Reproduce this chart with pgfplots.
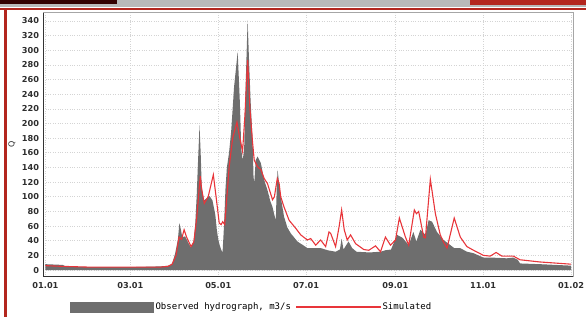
\documentclass[border=0pt]{standalone}
\usepackage{fontspec}
\setmainfont{DejaVu Sans}
\newfontfamily\monofont{DejaVu Sans Mono}
\usepackage{pgfplots}
\pgfplotsset{compat=1.18}
\usetikzlibrary{calc}
\definecolor{obsgray}{HTML}{6E6E6E}
\definecolor{simred}{HTML}{E8353A}
\definecolor{frred}{HTML}{B3261E}
\definecolor{gridc}{HTML}{D4D4D4}
\definecolor{tickc}{HTML}{2E2E2E}
\begin{document}
\begin{tikzpicture}[x=1pt,y=1pt]
\begin{axis}[
  name=ax,
  width=530pt, height=264pt, scale only axis,
  xmin=-1.5, xmax=366.6, ymin=-9.1, ymax=351.3,
  xtick={0,59,120,181,243,304,365},
  xticklabels={01.01,03.01,05.01,07.01,09.01,11.01,01.02},
  ytick={0,20,...,340},
  grid=major,
  major grid style={gridc, dotted, line width=0.7pt},
  axis line style={black!35, line width=0.8pt},
  major tick length=0pt,
  /pgf/number format/assume math mode=true,
  ticklabel style={font=\fontsize{8.2}{9}\selectfont\bfseries, text=tickc},
  yticklabel style={inner sep=0pt, anchor=east, xshift=-4pt},
  xticklabel style={inner sep=0pt, anchor=north, yshift=-5.5pt},
  ylabel={Q},
  ylabel style={at={(axis description cs:-0.059,0.5)}, anchor=center, font=\fontsize{8}{9}\selectfont, text=tickc},
  legend columns=2,
  legend cell align=left,
  legend style={at={(0.0504,-0.1148)}, anchor=west, draw=none, fill=none,
    inner sep=0pt, outer sep=0pt,
    font=\monofont\fontsize{9}{10}\selectfont,
    nodes={inner sep=1.5pt},
    /tikz/every even column/.append style={column sep=3.5pt}},
]
\addplot[fill=obsgray, draw=none,
  legend image code/.code={\fill[obsgray] (0pt,-5.5pt) rectangle (84pt,5.5pt);}]
coordinates {
(0,8)(12,7)(14,5)(30,4)(60,4)(80,5)(86,6)(88,9)(90,22)(92,42)(93,64)(94,56)(95,45)(97,46)(99,38)(101,31)(103,40)(104,62)(105,100)(106,150)(107,198)(107.8,160)(108.5,115)(110,95)(112,98)(114,101)(116,95)(118,75)(119,55)(120,42)(121,34)(122,28)(123,24)(124,60)(125,110)(126,140)(127.5,160)(129,190)(131,250)(133.5,298)(135,230)(136,165)(137,150)(138,165)(139,250)(140.4,341)(141.5,280)(142.5,230)(143.8,180)(144.5,128)(145,118)(146,150)(147.3,155)(149.6,146)(151.9,123)(154.2,109)(156,95)(157.7,86)(159,75)(160,68)(160.6,110)(161.2,137)(162.3,118)(163.4,100)(165.7,73)(168,58)(170.4,50)(175,39)(181.9,30)(191.1,30)(196,27)(201.5,25)(204.5,28)(205.7,43)(207,28)(210.5,39)(213,30)(216,25)(225,24)(232.7,25)(236.1,27)(240,28)(244.2,48)(248,44)(252.3,34)(255.5,52)(257.6,39)(260.4,55)(263.9,48)(266.1,68)(268.5,66)(271.9,52)(276.5,41)(281.2,34)(283.9,30)(288,30)(292.7,25)(297.3,23)(304.2,17)(310,17)(320.4,16)(325,17)(328,14)(329.6,9)(343.5,8)(365,6)
} \closedcycle;
\addlegendentry{Observed hydrograph, m3/s}
\addplot[simred, line width=1.1pt,
  legend image code/.code={\fill[simred] (0pt,-0.7pt) rectangle (84pt,0.7pt);}]
coordinates {
(0,6)(12,5)(30,4)(60,4)(80,4)(85,5)(88,8)(90.7,20)(92.8,45)(94.5,42)(96.3,55)(98,45)(101.1,32)(103,38)(105,70)(107.5,128)(108.5,110)(110.3,91)(113,100)(116.6,130)(118.5,100)(120.7,64)(122,62)(123.1,66)(124.5,62)(126,100)(127.6,141)(130,180)(133,202)(134.5,185)(136.9,162)(138.5,210)(140.4,287)(142,220)(143.8,175)(145,150)(147.3,141)(149.6,137)(151.9,125)(154.2,118)(157.7,96)(159,100)(161,125)(162.3,118)(163.4,100)(165.7,86)(169.2,68)(173.8,57)(177.3,48)(181.9,41)(184.2,43)(187.7,34)(191.1,41)(194.6,32)(196.9,52)(198.1,50)(201.5,32)(204,60)(205.7,82)(207.5,55)(209.6,41)(211.9,48)(215.4,36)(221.1,28)(224.6,27)(229.2,33)(232.7,25)(236.1,45)(239.6,34)(243.1,41)(245.8,71)(250,45)(252.3,34)(256.2,82)(257.6,77)(259.2,80)(262.7,45)(263.9,44)(267.3,124)(270.8,77)(274.2,48)(276.5,38)(278.9,30)(283.9,71)(288.1,45)(292.7,32)(297.3,27)(304.2,20)(308.9,19)(313,24)(317,19)(325,19)(329.6,14)(343.5,11)(365,8)
};
\addlegendentry{Simulated}
\end{axis}
\draw[black!80, line width=1.2pt] (ax.north west) -- (ax.south west) -- (ax.south east);
\coordinate (O) at ($(ax.south west)+(-43.3,-40.3)$);
\pgfresetboundingbox
\useasboundingbox (O) rectangle ($(O)+(586,317)$);
\begin{scope}[shift={(O)}]
\fill[gray!55] (0,310) rectangle (586,317);
\fill[black!80!red] (0,313) rectangle (117,317);
\fill[frred] (470,312) rectangle (586,317);
\fill[frred] (0,307.5) rectangle (586,309);
\fill[frred] (4.5,0) rectangle (7,309);
\end{scope}
\end{tikzpicture}
\end{document}
